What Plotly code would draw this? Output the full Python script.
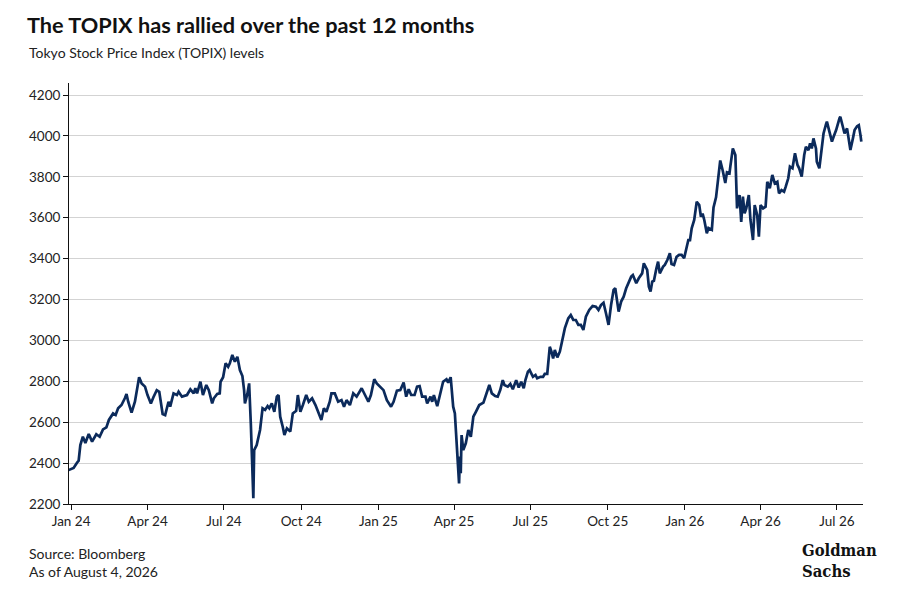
import plotly.graph_objects as go

# TOPIX levels
dates = [
    "2023-12-29", "2024-01-04", "2024-01-08", "2024-01-10", "2024-01-12", "2024-01-15", "2024-01-18",
    "2024-01-22", "2024-01-26", "2024-01-31", "2024-02-04", "2024-02-08", "2024-02-12", "2024-02-15",
    "2024-02-20", "2024-02-23", "2024-02-26", "2024-03-01", "2024-03-05", "2024-03-07", "2024-03-09",
    "2024-03-13", "2024-03-17", "2024-03-22", "2024-03-25", "2024-03-29", "2024-04-01", "2024-04-05",
    "2024-04-08", "2024-04-12", "2024-04-15", "2024-04-19", "2024-04-22", "2024-04-26", "2024-04-28",
    "2024-05-02", "2024-05-06", "2024-05-08", "2024-05-12", "2024-05-18", "2024-05-22", "2024-05-26",
    "2024-05-28", "2024-05-30", "2024-06-03", "2024-06-06", "2024-06-10", "2024-06-13", "2024-06-17",
    "2024-06-19", "2024-06-23", "2024-06-26", "2024-06-27", "2024-06-30", "2024-07-03", "2024-07-06",
    "2024-07-08", "2024-07-11", "2024-07-14", "2024-07-17", "2024-07-20", "2024-07-23", "2024-07-25",
    "2024-07-26", "2024-07-29", "2024-07-31", "2024-08-02", "2024-08-05", "2024-08-06", "2024-08-09",
    "2024-08-13", "2024-08-16", "2024-08-19", "2024-08-22", "2024-08-24", "2024-08-27", "2024-08-30",
    "2024-09-02", "2024-09-04", "2024-09-06", "2024-09-09", "2024-09-11", "2024-09-14", "2024-09-18",
    "2024-09-21", "2024-09-25", "2024-09-27", "2024-09-30", "2024-10-03", "2024-10-07", "2024-10-10",
    "2024-10-14", "2024-10-18", "2024-10-21", "2024-10-25", "2024-10-28", "2024-10-31", "2024-11-04",
    "2024-11-06", "2024-11-10", "2024-11-14", "2024-11-18", "2024-11-21", "2024-11-24", "2024-11-28",
    "2024-12-02", "2024-12-06", "2024-12-12", "2024-12-15", "2024-12-20", "2024-12-23", "2024-12-27",
    "2024-12-30", "2025-01-03", "2025-01-07", "2025-01-11", "2025-01-16", "2025-01-19", "2025-01-23",
    "2025-01-27", "2025-01-31", "2025-02-03", "2025-02-06", "2025-02-09", "2025-02-13", "2025-02-16",
    "2025-02-19", "2025-02-22", "2025-02-26", "2025-02-28", "2025-03-04", "2025-03-06", "2025-03-08",
    "2025-03-12", "2025-03-15", "2025-03-19", "2025-03-23", "2025-03-25", "2025-03-28", "2025-03-31",
    "2025-04-02", "2025-04-04", "2025-04-07", "2025-04-08", "2025-04-09", "2025-04-10", "2025-04-12",
    "2025-04-15", "2025-04-18", "2025-04-21", "2025-04-24", "2025-04-27", "2025-05-01", "2025-05-06",
    "2025-05-09", "2025-05-13", "2025-05-16", "2025-05-20", "2025-05-23", "2025-05-26", "2025-05-29",
    "2025-05-31", "2025-06-04", "2025-06-07", "2025-06-10", "2025-06-14", "2025-06-17", "2025-06-20",
    "2025-06-23", "2025-06-25", "2025-06-28", "2025-06-30", "2025-07-04", "2025-07-07", "2025-07-09",
    "2025-07-13", "2025-07-16", "2025-07-18", "2025-07-21", "2025-07-24", "2025-07-26", "2025-07-28",
    "2025-07-30", "2025-08-02", "2025-08-05", "2025-08-09", "2025-08-11", "2025-08-15", "2025-08-18",
    "2025-08-21", "2025-08-24", "2025-08-27", "2025-08-30", "2025-09-02", "2025-09-05", "2025-09-09",
    "2025-09-13", "2025-09-17", "2025-09-20", "2025-09-23", "2025-09-26", "2025-09-29", "2025-10-02",
    "2025-10-05", "2025-10-08", "2025-10-10", "2025-10-12", "2025-10-14", "2025-10-17", "2025-10-20",
    "2025-10-23", "2025-10-26", "2025-10-29", "2025-10-31", "2025-11-04", "2025-11-07", "2025-11-11",
    "2025-11-13", "2025-11-17", "2025-11-19", "2025-11-21", "2025-11-23", "2025-11-25", "2025-11-28",
    "2025-11-30", "2025-12-02", "2025-12-06", "2025-12-08", "2025-12-11", "2025-12-14", "2025-12-16",
    "2025-12-19", "2025-12-22", "2025-12-25", "2025-12-28", "2025-12-31", "2026-01-03", "2026-01-05",
    "2026-01-07", "2026-01-09", "2026-01-12", "2026-01-15", "2026-01-18", "2026-01-20", "2026-01-22",
    "2026-01-24", "2026-01-27", "2026-01-29", "2026-02-02", "2026-02-04", "2026-02-07", "2026-02-10",
    "2026-02-12", "2026-02-15", "2026-02-18", "2026-02-20", "2026-02-23", "2026-02-24", "2026-02-27",
    "2026-03-02", "2026-03-04", "2026-03-07", "2026-03-09", "2026-03-11", "2026-03-13", "2026-03-15",
    "2026-03-18", "2026-03-20", "2026-03-23", "2026-03-25", "2026-03-28", "2026-03-30", "2026-04-01",
    "2026-04-04", "2026-04-07", "2026-04-09", "2026-04-12", "2026-04-15", "2026-04-18", "2026-04-21",
    "2026-04-23", "2026-04-26", "2026-04-29", "2026-05-01", "2026-05-04", "2026-05-06", "2026-05-09",
    "2026-05-12", "2026-05-15", "2026-05-17", "2026-05-20", "2026-05-23", "2026-05-25", "2026-05-28",
    "2026-05-30", "2026-06-01", "2026-06-03", "2026-06-06", "2026-06-07", "2026-06-10", "2026-06-13",
    "2026-06-15", "2026-06-18", "2026-06-19", "2026-06-22", "2026-06-25", "2026-06-27", "2026-06-30",
    "2026-07-04", "2026-07-05", "2026-07-08", "2026-07-10", "2026-07-13", "2026-07-15", "2026-07-17",
    "2026-07-20", "2026-07-22", "2026-07-25", "2026-07-27", "2026-07-29", "2026-07-30",
]

topix = [
    2366, 2376, 2402, 2412, 2488, 2529, 2498,
    2542, 2505, 2541, 2529, 2565, 2575, 2611,
    2643, 2635, 2668, 2684, 2717, 2738, 2700,
    2647, 2700, 2820, 2790, 2774, 2733, 2692,
    2722, 2757, 2749, 2640, 2635, 2700, 2676,
    2741, 2733, 2749, 2725, 2733, 2761, 2741,
    2766, 2741, 2798, 2733, 2782, 2757, 2692,
    2717, 2738, 2741, 2798, 2820, 2888, 2871,
    2888, 2929, 2896, 2920, 2855, 2826, 2757,
    2692, 2741, 2790, 2595, 2228, 2464, 2488,
    2562, 2668, 2660, 2679, 2668, 2692, 2651,
    2725, 2733, 2627, 2578, 2537, 2570, 2554,
    2643, 2656, 2733, 2651, 2684, 2733, 2700,
    2717, 2684, 2651, 2611, 2668, 2651, 2700,
    2741, 2741, 2700, 2708, 2676, 2708, 2684,
    2741, 2725, 2766, 2741, 2700, 2733, 2810,
    2790, 2774, 2757, 2708, 2676, 2700, 2754,
    2757, 2794, 2725, 2761, 2733, 2733, 2774,
    2777, 2725, 2725, 2692, 2725, 2700, 2733,
    2679, 2725, 2798, 2810, 2794, 2820, 2676,
    2643, 2513, 2301, 2432, 2350, 2537, 2464,
    2497, 2562, 2529, 2627, 2651, 2684, 2696,
    2733, 2782, 2741, 2728, 2725, 2757, 2806,
    2782, 2774, 2787, 2761, 2806, 2770, 2798,
    2766, 2806, 2847, 2855, 2822, 2831, 2815,
    2822, 2822, 2836, 2836, 2969, 2945, 2912,
    2953, 2917, 2945, 3035, 3060, 3108, 3124,
    3100, 3100, 3076, 3076, 3051, 3116, 3149,
    3168, 3165, 3149, 3173, 3184, 3132, 3076,
    3173, 3247, 3255, 3190, 3141, 3190, 3214,
    3255, 3288, 3312, 3320, 3280, 3304, 3328,
    3377, 3345, 3263, 3239, 3288, 3292, 3353,
    3385, 3328, 3361, 3369, 3393, 3426, 3374,
    3369, 3409, 3418, 3418, 3402, 3450, 3491,
    3491, 3548, 3589, 3678, 3662, 3605, 3620,
    3589, 3524, 3550, 3541, 3650, 3700, 3800,
    3880, 3830, 3770, 3822, 3817, 3850, 3939,
    3907, 3646, 3711, 3580, 3703, 3621, 3646,
    3711, 3589, 3491, 3662, 3613, 3507, 3662,
    3646, 3654, 3776, 3744, 3809, 3768, 3776,
    3719, 3735, 3727, 3752, 3793, 3850, 3842,
    3915, 3858, 3842, 3801, 3907, 3947, 3931,
    3964, 3939, 3988, 3939, 3874, 3842, 3947,
    4012, 4058, 4070, 4021, 3972, 3996, 4029,
    4086, 4094, 4045, 4012, 4037, 3980, 3931,
    3988, 4029, 4048, 4053, 4004, 3972,
]

tick_dates = ["2024-01-01", "2024-04-01", "2024-07-01", "2024-10-01", "2025-01-01", "2025-04-01",
              "2025-07-01", "2025-10-01", "2026-01-01", "2026-04-01", "2026-07-01"]
tick_text = ["Jan 24", "Apr 24", "Jul 24", "Oct 24", "Jan 25", "Apr 25",
             "Jul 25", "Oct 25", "Jan 26", "Apr 26", "Jul 26"]
y_ticks = [2200, 2400, 2600, 2800, 3000, 3200, 3400, 3600, 3800, 4000, 4200]

font = "Lato, 'Open Sans', sans-serif"
logo_font = "'DejaVu Serif Condensed', 'Liberation Serif', serif"
navy = "#0b2a5b"

# the page body adds an 8px offset, so positions are shifted back by 8
fig = go.Figure()
fig.add_trace(go.Scatter(x=dates, y=topix, mode="lines",
                         line=dict(color=navy, width=2.7), hoverinfo="x+y"))

fig.update_layout(
    width=904, height=602,
    margin=dict(l=61, r=49, t=75, b=106),
    paper_bgcolor="white", plot_bgcolor="white",
    showlegend=False,
    font=dict(family=font, color="#222222", size=13),
    title=dict(text="<b>The TOPIX has rallied over the past 12 months</b>",
               x=19 / 904, xanchor="left", xref="container",
               y=1 - 17 / 602, yanchor="middle", yref="container",
               font=dict(size=21.7, color="#111111", family=font)),
)

fig.update_xaxes(
    range=["2023-12-29 12:00", "2026-08-01"],
    tickvals=tick_dates, ticktext=tick_text,
    showgrid=False, showline=True, linecolor="#111111", linewidth=1,
    ticks="outside", ticklen=5, tickcolor="#111111",
    tickfont=dict(size=13.5, color="#222222"),
    zeroline=False,
)
fig.update_yaxes(
    range=[2200, 4259],
    tickvals=y_ticks,
    showgrid=True, gridcolor="#d3d3d3", gridwidth=1,
    showline=True, linecolor="#111111", linewidth=1,
    ticks="outside", ticklen=5, tickcolor="#111111",
    tickfont=dict(size=13.5, color="#222222"),
    zeroline=False,
)

# subtitle, source notes and logo
fig.add_annotation(text="Tokyo Stock Price Index (TOPIX) levels",
                   xref="paper", yref="paper", x=(27 - 69) / 793.7, y=(504 - 53) / 421,
                   xanchor="left", yanchor="middle", showarrow=False,
                   font=dict(size=14, color="#222222"))
fig.add_annotation(text="Source: Bloomberg<br>As of August 4, 2026",
                   xref="paper", yref="paper", x=(27 - 69) / 793.7, y=(504 - 562) / 421,
                   xanchor="left", yanchor="middle", showarrow=False, align="left",
                   font=dict(size=14, color="#222222"))
fig.add_annotation(text="<b>Goldman<br>Sachs</b>",
                   xref="paper", yref="paper", x=(800 - 69) / 793.7, y=(504 - 561) / 421,
                   xanchor="left", yanchor="middle", showarrow=False, align="left",
                   font=dict(size=16.5, color="#111111", family=logo_font))

fig.write_html("out.html")
